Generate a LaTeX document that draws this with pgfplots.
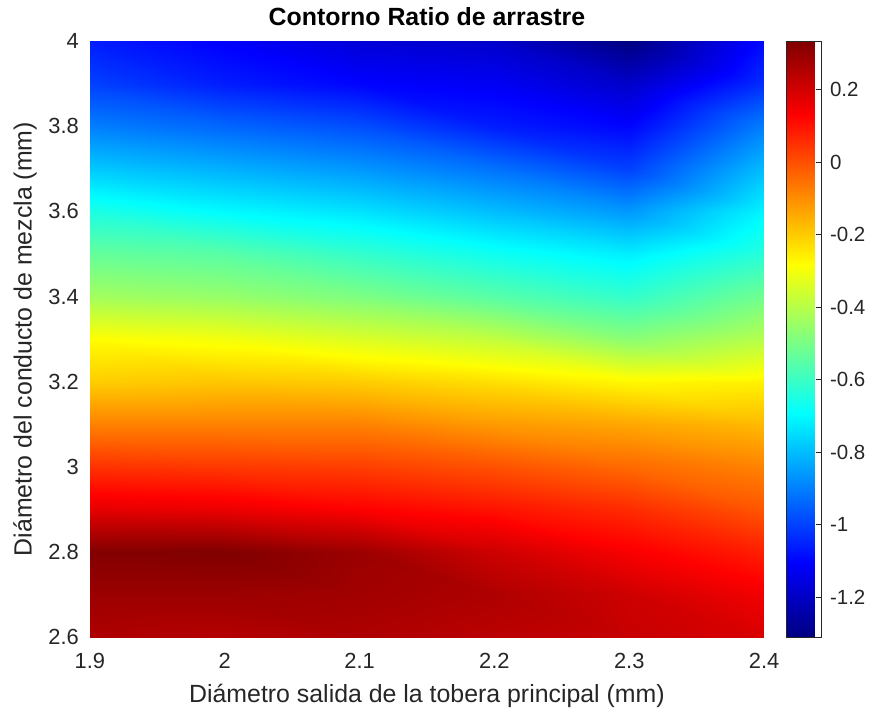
\documentclass[border=0pt]{standalone}
\usepackage{pgfplots}
\pgfplotsset{compat=1.18}
\usepackage{fontspec}
\setmainfont{Liberation Sans}
\definecolor{tickgray}{RGB}{38,38,38}
\begin{document}
\begin{tikzpicture}
\begin{axis}[
  name=main,
  scale only axis,
  width=337.5bp, height=298.5bp,
  view={0}{90},
  xmin=1.9, xmax=2.4, ymin=2.6, ymax=4,
  xtick={1.9,2,2.1,2.2,2.3,2.4},
  xticklabels={1.9,2,2.1,2.2,2.3,2.4},
  ytick={2.6,2.8,3,3.2,3.4,3.6,3.8,4},
  yticklabels={2.6,2.8,3,3.2,3.4,3.6,3.8,4},
  major tick length=0pt,
  axis line style={draw=none},
  /pgf/number format/assume math mode=true,
  tick label style={font=\fontsize{11}{13}\selectfont, text=tickgray},
  xticklabel style={yshift=-4.3bp},
  yticklabel style={xshift=-2bp},
  label style={font=\fontsize{12.5}{15}\selectfont, text=tickgray},
  xlabel style={at={(axis description cs:0.5,-0.0988)}, anchor=center},
  ylabel style={at={(axis description cs:-0.0963,0.5)}, anchor=center},
  title style={font=\fontsize{12.5}{15}\selectfont\bfseries, yshift=-2bp},
  title={Contorno Ratio de arrastre},
  xlabel={Diámetro salida de la tobera principal (mm)},
  ylabel={Diámetro del conducto de mezcla (mm)},
  colormap/jet,
  point meta min=-1.31, point meta max=0.335,
  colorbar,
  colorbar style={
    width=17.5bp,
    at={(parent axis.north east)}, anchor=north west, xshift=2.5bp,
    ytick={-1.2,-1,-0.8,-0.6,-0.4,-0.2,0,0.2},
    yticklabels={-1.2,-1,-0.8,-0.6,-0.4,-0.2,0,0.2},
    ytick pos=right, yticklabel pos=right,
    tick align=inside, major tick length=2.5bp,
    tick style={draw=tickgray, line width=0.4pt},
    axis line style={draw=tickgray, line width=0.4pt},
    /pgf/number format/assume math mode=true,
    yticklabel style={font=\fontsize{10.3}{12}\selectfont, text=tickgray, xshift=1bp},
  },
]
\addplot3[surf, shader=interp, mesh/cols=6] table[x=x, y=y, z=z] {
x y z
1.9 2.6 0.26
2.0 2.6 0.25
2.1 2.6 0.26
2.2 2.6 0.24
2.3 2.6 0.22
2.4 2.6 0.19
1.9 2.7 0.29
2.0 2.7 0.29
2.1 2.7 0.28
2.2 2.7 0.26
2.3 2.7 0.21
2.4 2.7 0.15
1.9 2.8 0.33
2.0 2.8 0.335
2.1 2.8 0.29
2.2 2.8 0.21
2.3 2.8 0.14
2.4 2.8 0.08
1.9 2.9 0.17
2.0 2.9 0.16
2.1 2.9 0.13
2.2 2.9 0.10
2.3 2.9 0.06
2.4 2.9 -0.01
1.9 3.0 0.05
2.0 3.0 0.04
2.1 3.0 0.03
2.2 3.0 0.0
2.3 3.0 -0.04
2.4 3.0 -0.08
1.9 3.1 -0.08
2.0 3.1 -0.08
2.1 3.1 -0.08
2.2 3.1 -0.12
2.3 3.1 -0.14
2.4 3.1 -0.17
1.9 3.2 -0.20
2.0 3.2 -0.19
2.1 3.2 -0.20
2.2 3.2 -0.23
2.3 3.2 -0.27
2.4 3.2 -0.26
1.9 3.3 -0.28
2.0 3.3 -0.30
2.1 3.3 -0.34
2.2 3.3 -0.38
2.3 3.3 -0.47
2.4 3.3 -0.40
1.9 3.4 -0.43
2.0 3.4 -0.45
2.1 3.4 -0.49
2.2 3.4 -0.55
2.3 3.4 -0.61
2.4 3.4 -0.51
1.9 3.5 -0.53
2.0 3.5 -0.55
2.1 3.5 -0.61
2.2 3.5 -0.67
2.3 3.5 -0.72
2.4 3.5 -0.63
1.9 3.6 -0.65
2.0 3.6 -0.70
2.1 3.6 -0.74
2.2 3.6 -0.80
2.3 3.6 -0.86
2.4 3.6 -0.71
1.9 3.7 -0.78
2.0 3.7 -0.82
2.1 3.7 -0.86
2.2 3.7 -0.92
2.3 3.7 -1.00
2.4 3.7 -0.80
1.9 3.8 -0.90
2.0 3.8 -0.94
2.1 3.8 -0.98
2.2 3.8 -1.06
2.3 3.8 -1.10
2.4 3.8 -0.90
1.9 3.9 -1.00
2.0 3.9 -1.06
2.1 3.9 -1.10
2.2 3.9 -1.12
2.3 3.9 -1.19
2.4 3.9 -1.03
1.9 4.0 -1.06
2.0 4.0 -1.11
2.1 4.0 -1.17
2.2 4.0 -1.19
2.3 4.0 -1.31
2.4 4.0 -1.09
};
\end{axis}
\path (main.south west) ++(-45bp,-38bp) rectangle ++(436bp,357bp);
\end{tikzpicture}
\end{document}
